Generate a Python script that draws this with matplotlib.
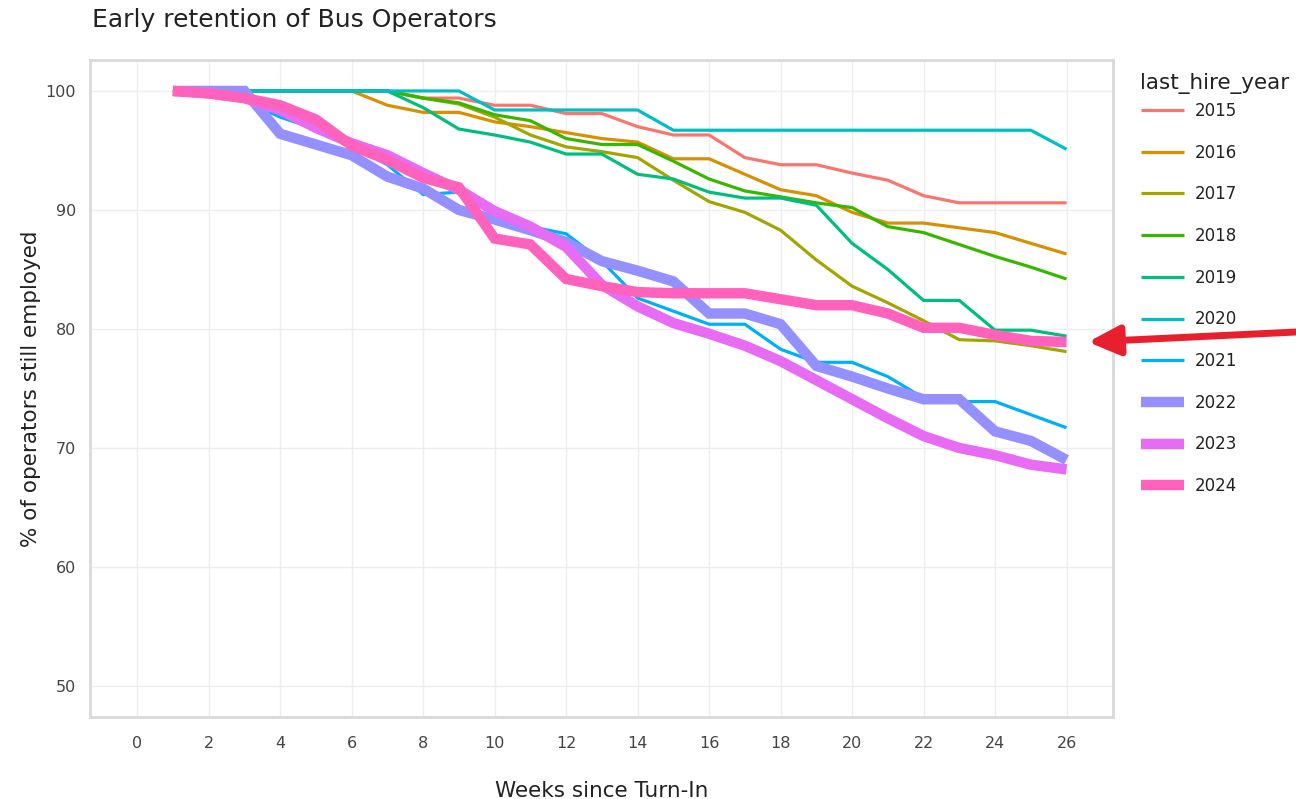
import numpy as np
import matplotlib
matplotlib.use("Agg")
import matplotlib.pyplot as plt

weeks = list(range(1, 27))

years = ["2015", "2016", "2017", "2018", "2019", "2020", "2021", "2022", "2023", "2024"]
colors = ["#F8766D", "#D89000", "#A3A500", "#39B600", "#00BF7D",
          "#00BFC4", "#00B0F6", "#9590FF", "#E76BF3", "#FF62BC"]

r2015 = [100, 100, 100, 100, 100, 100, 100, 99.4, 99.4, 98.8, 98.8, 98.1, 98.1,
         97.0, 96.3, 96.3, 94.4, 93.8, 93.8, 93.1, 92.5, 91.2, 90.6, 90.6, 90.6, 90.6]
r2016 = [100, 100, 100, 100, 100, 100, 98.8, 98.2, 98.2, 97.4, 97.0, 96.5, 96.0,
         95.7, 94.3, 94.3, 93.0, 91.7, 91.2, 89.8, 88.9, 88.9, 88.5, 88.1, 87.2, 86.3]
r2017 = [100, 100, 100, 100, 100, 100, 100, 99.4, 98.9, 97.8, 96.3, 95.3, 94.9,
         94.4, 92.5, 90.7, 89.8, 88.3, 85.8, 83.6, 82.2, 80.7, 79.1, 79.0, 78.6, 78.1]
r2018 = [100, 100, 100, 100, 100, 100, 100, 99.4, 99.0, 98.0, 97.5, 96.0, 95.5,
         95.5, 94.1, 92.6, 91.6, 91.1, 90.6, 90.2, 88.6, 88.1, 87.1, 86.1, 85.2, 84.2]
r2019 = [100, 100, 100, 100, 100, 100, 100, 98.6, 96.8, 96.3, 95.7, 94.7, 94.7,
         93.0, 92.6, 91.5, 91.0, 91.0, 90.4, 87.2, 85.0, 82.4, 82.4, 79.9, 79.9, 79.4]
r2020 = [100, 100, 100, 100, 100, 100, 100, 100, 100, 98.4, 98.4, 98.4, 98.4,
         98.4, 96.7, 96.7, 96.7, 96.7, 96.7, 96.7, 96.7, 96.7, 96.7, 96.7, 96.7, 95.1]
r2021 = [100, 99.8, 99.2, 97.8, 96.8, 95.4, 93.8, 91.3, 91.5, 89.5, 88.6, 88.0, 85.7,
         82.6, 81.5, 80.4, 80.4, 78.3, 77.2, 77.2, 76.0, 74.2, 73.9, 73.9, 72.8, 71.7]
r2022 = [100, 100, 100, 96.4, 95.5, 94.6, 92.8, 91.8, 90.0, 89.2, 88.3, 87.3, 85.7,
         84.9, 84.0, 81.3, 81.3, 80.4, 76.9, 76.0, 75.0, 74.1, 74.1, 71.4, 70.6, 69.0]
r2023 = [100, 99.8, 99.4, 98.4, 96.9, 95.6, 94.6, 93.1, 91.7, 89.9, 88.6, 86.9, 83.7,
         81.9, 80.5, 79.6, 78.6, 77.3, 75.7, 74.1, 72.5, 71.0, 70.0, 69.4, 68.6, 68.2]
r2024 = [100, 99.8, 99.4, 98.8, 97.6, 95.4, 94.2, 92.7, 91.9, 87.6, 87.1, 84.2, 83.6,
         83.1, 83.0, 83.0, 83.0, 82.5, 82.0, 82.0, 81.3, 80.1, 80.1, 79.5, 79.0, 78.9]

series = [r2015, r2016, r2017, r2018, r2019, r2020, r2021, r2022, r2023, r2024]
thick = ["2022", "2023", "2024"]

fig = plt.figure(figsize=(12.96, 7.99), dpi=100)
ax = fig.add_axes([90/1296, 1 - 717/799, (1113 - 90)/1296, (717 - 60)/799])

for yr, col, vals in zip(years, colors, series):
    lw = 7.5 if yr in thick else 2.3
    ax.plot(weeks, vals, color=col, linewidth=lw, label=yr,
            solid_joinstyle="miter", solid_capstyle="butt")

ax.set_xlim(-1.32, 27.3)
ax.set_ylim(47.4, 102.6)
ax.set_xticks(range(0, 27, 2))
ax.set_yticks(range(50, 101, 10))
ax.grid(True, color="#EEEEEE", linewidth=1)
ax.set_axisbelow(True)
ax.tick_params(length=0, labelsize=11.5, labelcolor="#444444")
ax.tick_params(axis="x", pad=14)
ax.tick_params(axis="y", pad=10)
for s in ax.spines.values():
    s.set_color("#D9D9D9")
    s.set_linewidth(2)

ax.set_xlabel("Weeks since Turn-In", fontsize=15.5, color="#222222", labelpad=21)
ax.set_ylabel("% of operators still employed", fontsize=15.5, color="#222222", labelpad=3)
fig.text(92/1296, 1 - 20/799, "Early retention of Bus Operators", fontsize=18,
         color="#222222", ha="left", va="center")

# legend title drawn separately so the gap above the first entry matches
fig.text(1140/1296, 1 - 84/799, "last_hire_year", fontsize=15.5,
         color="#222222", ha="left", va="center")
leg = ax.legend(loc="upper left", bbox_to_anchor=(1141/1296, 1 - 102/799),
                bbox_transform=fig.transFigure, frameon=False, fontsize=12,
                handlelength=2.6, handletextpad=0.6, labelspacing=1.42,
                borderaxespad=0, borderpad=0)
for t in leg.get_texts():
    t.set_color("#222222")

ax.annotate("", xy=(1088/1296, 1 - 342/799), xycoords="figure fraction",
            xytext=(1296/1296, 1 - 332/799), textcoords="figure fraction",
            arrowprops=dict(arrowstyle="-|>,head_length=1.9,head_width=0.9",
                            color="#E8202E", lw=5, shrinkA=0, shrinkB=0),
            annotation_clip=False)

fig.savefig("out.png", dpi=100)
